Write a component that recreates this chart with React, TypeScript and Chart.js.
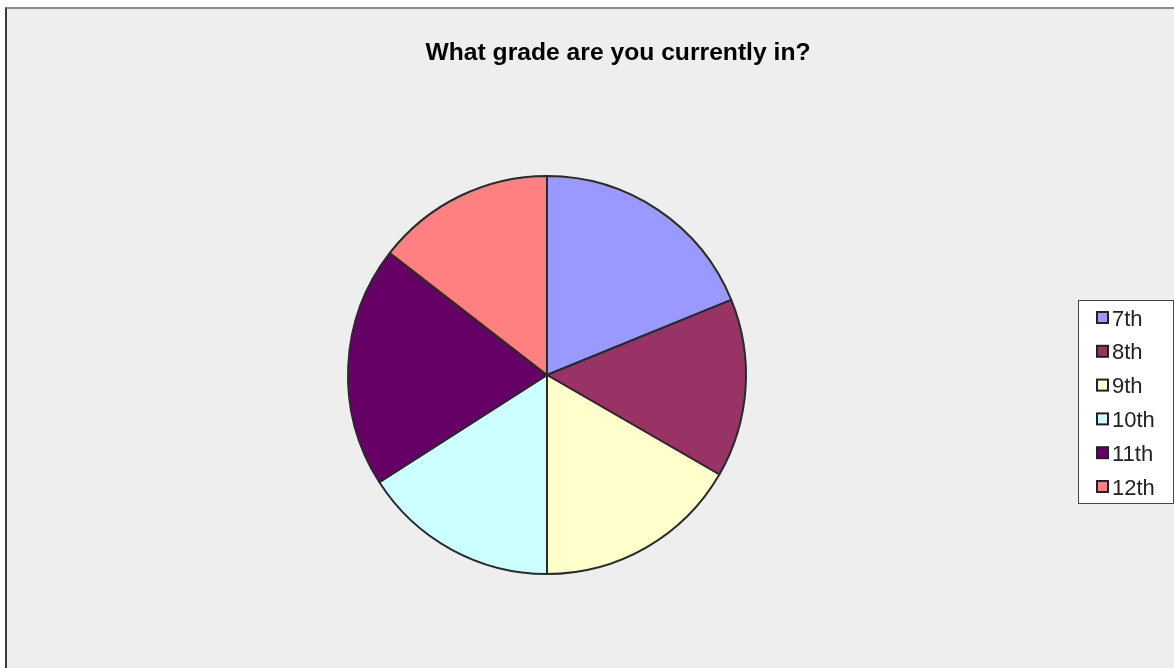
import React, { useEffect, useRef } from "react";
import { Chart, registerables } from "chart.js";

Chart.register(...registerables);

const titleText = "What grade are you currently in?";
const grades = ["7th", "8th", "9th", "10th", "11th", "12th"];
const counts = [26, 20, 23, 22, 27, 20];
const colors = ["#9999FF", "#993366", "#FFFFCC", "#CCFFFF", "#660066", "#FF8080"];

const W = 1167;
const H = 659;

const decorPlugin = {
  id: "decor",
  afterDraw(chart: any) {
    const ctx = chart.ctx as CanvasRenderingContext2D;
    ctx.save();
    // title
    ctx.fillStyle = "#000000";
    ctx.font = "bold 24px 'Liberation Sans', Arial, sans-serif";
    ctx.textAlign = "center";
    ctx.textBaseline = "alphabetic";
    const tw = ctx.measureText(titleText).width;
    const sx = 385 / tw;
    ctx.save();
    ctx.translate(611, 51);
    ctx.scale(sx, 1);
    ctx.fillText(titleText, 0, 0);
    ctx.restore();

    // legend box
    const bx = 1071, by = 291, bw = 95, bh = 203;
    ctx.fillStyle = "#ffffff";
    ctx.fillRect(bx, by, bw, bh);
    ctx.strokeStyle = "#444444";
    ctx.lineWidth = 1;
    ctx.strokeRect(bx + 0.5, by + 0.5, bw, bh);

    const labels = chart.data.labels as string[];
    const bg = chart.data.datasets[0].backgroundColor as string[];
    ctx.font = "22px 'Liberation Sans', Arial, sans-serif";
    ctx.textAlign = "left";
    labels.forEach((lab, i) => {
      const cy = 308.5 + i * 33.8;
      ctx.fillStyle = bg[i];
      ctx.fillRect(1090, cy - 5.5, 11, 11);
      ctx.strokeStyle = "#222222";
      ctx.lineWidth = 2;
      ctx.strokeRect(1090, cy - 5.5, 11, 11);
      ctx.fillStyle = "#222222";
      ctx.textBaseline = "alphabetic";
      ctx.fillText(lab, 1105, cy + 8);
    });
    ctx.restore();
  },
};

export default function App() {
  const ref = useRef<HTMLCanvasElement | null>(null);
  useEffect(() => {
    if (!ref.current) return;
    const chart = new Chart(ref.current, {
      type: "pie",
      data: {
        labels: grades,
        datasets: [
          {
            data: counts,
            backgroundColor: colors,
            borderColor: "#2a2a2a",
            borderWidth: 2,
          },
        ],
      },
      options: {
        responsive: false,
        animation: false,
        devicePixelRatio: 1,
        layout: { padding: { left: 340, top: 166, right: 427, bottom: 93 } },
        plugins: {
          legend: { display: false },
          title: { display: false },
          tooltip: { enabled: false },
        },
      },
      plugins: [decorPlugin],
    });
    return () => chart.destroy();
  }, []);

  return (
    <div
      style={{
        position: "fixed",
        left: 5,
        top: 7,
        width: W,
        height: H,
        borderTop: "2px solid #8c8c8c",
        borderLeft: "2px solid #3a3a3a",
        background: "#eeeeee",
        overflow: "hidden",
      }}
    >
      <canvas ref={ref} width={W} height={H} style={{ display: "block" }} />
    </div>
  );
}
